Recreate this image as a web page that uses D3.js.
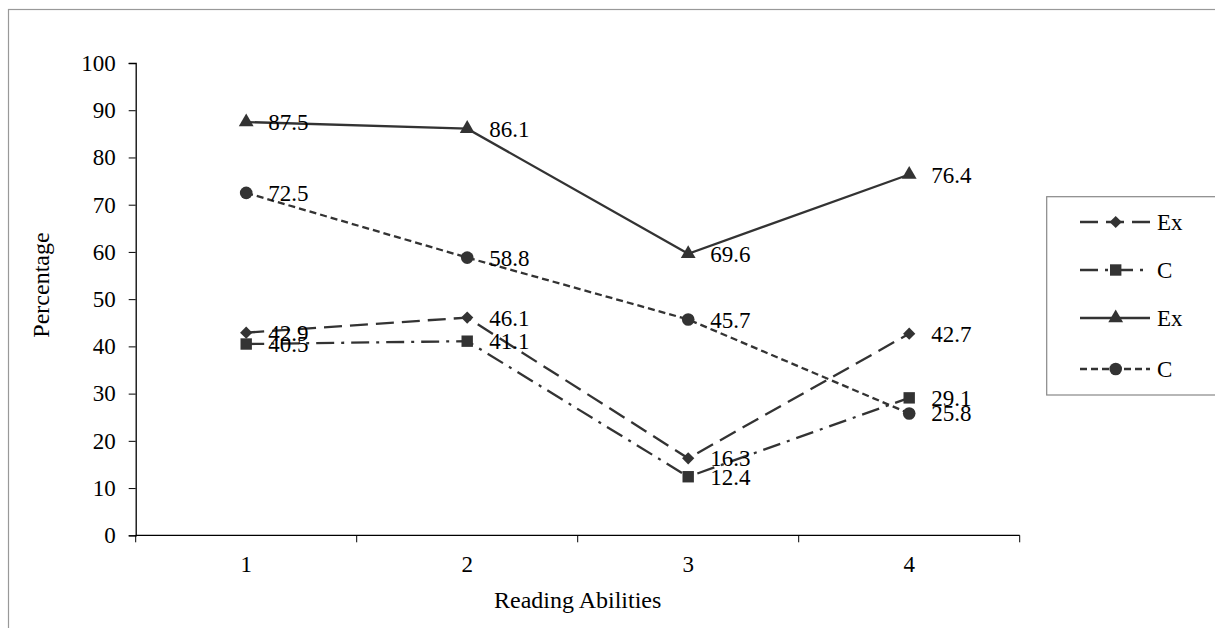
<!DOCTYPE html>
<html>
<head>
<meta charset="utf-8">
<script src="https://cdn.jsdelivr.net/npm/d3@7"></script>
<style>
  html, body { margin: 0; padding: 0; background: #fff; }
  svg { display: block; }
  text { font-family: "Liberation Serif", "Times New Roman", serif; fill: #000; }
</style>
</head>
<body>
<svg id="chart" width="1215" height="628"></svg>
<script>
const categories = ["1", "2", "3", "4"];
const yTicks = [0, 10, 20, 30, 40, 50, 60, 70, 80, 90, 100];
const seriesNames = ["Ex", "C", "Ex", "C"];
const exDashed = [42.9, 46.1, 16.3, 42.7];
const cDashDot = [40.5, 41.1, 12.4, 29.1];
const exSolid = [87.5, 86.1, 59.6, 76.4];
const cDotted = [72.5, 58.8, 45.7, 25.8];
const exDashedLabels = ["42.9", "46.1", "16.3", "42.7"];
const cDashDotLabels = ["40.5", "41.1", "12.4", "29.1"];
const exSolidLabels = ["87.5", "86.1", "69.6", "76.4"];
const cDottedLabels = ["72.5", "58.8", "45.7", "25.8"];
const xTitle = "Reading Abilities";
const yTitle = "Percentage";

const diamond = {
  draw(ctx, size) {
    const r = Math.sqrt(size / 2);
    ctx.moveTo(0, -r); ctx.lineTo(r, 0); ctx.lineTo(0, r); ctx.lineTo(-r, 0); ctx.closePath();
  }
};

const series = [
  { name: seriesNames[0], values: exDashed, labels: exDashedLabels, dash: "18,8", marker: diamond, size: 75 },
  { name: seriesNames[1], values: cDashDot, labels: cDashDotLabels, dash: "18,7,3,7", marker: d3.symbolSquare, size: 130 },
  { name: seriesNames[2], values: exSolid, labels: exSolidLabels, dash: null, marker: d3.symbolTriangle, size: 95 },
  { name: seriesNames[3], values: cDotted, labels: cDottedLabels, dash: "7,4", marker: d3.symbolCircle, size: 125 }
];

const color = "#333";
const svg = d3.select("#chart");

// outer chart border
svg.append("rect")
  .attr("x", 8.5).attr("y", 9.5).attr("width", 1240).attr("height", 640)
  .attr("fill", "none").attr("stroke", "#999").attr("stroke-width", 1.2);

const pLeft = 135.7, pRight = 1019.7, pTop = 63, pBottom = 535.3;

const x = d3.scaleBand().domain(categories).range([pLeft, pRight]);
const y = d3.scaleLinear().domain([0, 100]).range([pBottom, pTop]);
const cx = c => x(c) + x.bandwidth() / 2;

// Y axis
const yAxis = svg.append("g").attr("transform", `translate(${pLeft},0)`)
  .call(d3.axisLeft(y).tickValues(yTicks).tickSize(7).tickPadding(13));
yAxis.attr("font-family", null).attr("font-size", null);
yAxis.select(".domain").attr("stroke", "#000").attr("stroke-width", 1.3);
yAxis.selectAll(".tick line").attr("stroke", "#000");
yAxis.selectAll(".tick text").style("font-size", "23px").attr("fill", "#000");

// X axis (baseline + ticks at band boundaries)
const xAxisG = svg.append("g");
xAxisG.append("line").attr("x1", pLeft).attr("x2", pRight).attr("y1", pBottom).attr("y2", pBottom)
  .attr("stroke", "#000").attr("stroke-width", 1.3);
const boundaries = categories.map(c => x(c)).concat([x(categories[categories.length - 1]) + x.bandwidth()]);
xAxisG.selectAll("line.tk").data(boundaries).enter().append("line").attr("class", "tk")
  .attr("x1", d => d).attr("x2", d => d).attr("y1", pBottom).attr("y2", pBottom + 7)
  .attr("stroke", "#000").attr("stroke-width", 1);
xAxisG.selectAll("text").data(categories).enter().append("text")
  .attr("x", d => cx(d)).attr("y", 572)
  .attr("text-anchor", "middle").style("font-size", "23px").text(d => d);

// axis titles
svg.append("text").attr("x", (pLeft + pRight) / 2).attr("y", 608)
  .attr("text-anchor", "middle").style("font-size", "24px").text(xTitle);
svg.append("text").attr("transform", "translate(49,285) rotate(-90)")
  .attr("text-anchor", "middle").style("font-size", "24px").text(yTitle);

// series
const line = d3.line().x((d, i) => cx(categories[i])).y(d => y(d));
series.forEach(s => {
  svg.append("path").datum(s.values).attr("d", line)
    .attr("fill", "none").attr("stroke", color).attr("stroke-width", 2.3)
    .attr("stroke-dasharray", s.dash);
});
series.forEach(s => {
  svg.selectAll(null).data(s.values).enter().append("path")
    .attr("d", d3.symbol().type(s.marker).size(s.size))
    .attr("transform", (d, i) => `translate(${cx(categories[i])},${y(d)})`)
    .attr("fill", color);
});
series.forEach(s => {
  svg.selectAll(null).data(s.values).enter().append("text")
    .attr("x", (d, i) => cx(categories[i]) + 22).attr("y", d => y(d))
    .attr("dy", "0.35em").style("font-size", "23px")
    .text((d, i) => s.labels[i]);
});

// legend
const legend = svg.append("g");
legend.append("rect").attr("x", 1046.7).attr("y", 196.7).attr("width", 220).attr("height", 198.3)
  .attr("fill", "#fff").attr("stroke", "#888").attr("stroke-width", 1.2);
const rowY = [222, 270, 318, 369];
series.forEach((s, i) => {
  const g = legend.append("g").attr("transform", `translate(0,${rowY[i]})`);
  g.append("line").attr("x1", 1080).attr("x2", 1150).attr("y1", 0).attr("y2", 0)
    .attr("stroke", color).attr("stroke-width", 2.3).attr("stroke-dasharray", s.dash);
  g.append("path").attr("d", d3.symbol().type(s.marker).size(s.size))
    .attr("transform", "translate(1115.7,0)").attr("fill", color);
  g.append("text").attr("x", 1157).attr("y", 0).attr("dy", "0.35em")
    .style("font-size", "23px").text(s.name);
});
</script>
</body>
</html>
